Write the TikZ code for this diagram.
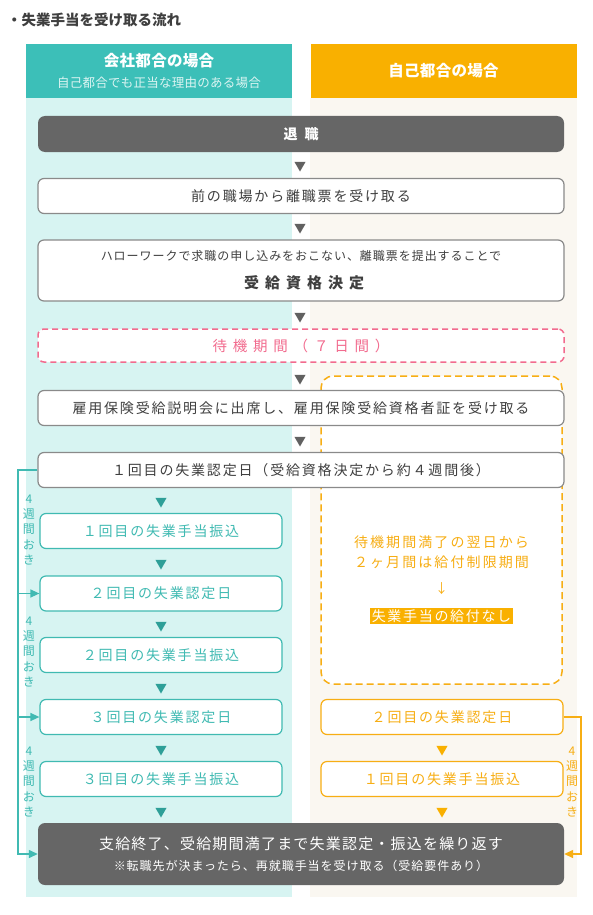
\documentclass[tikz,border=0pt]{standalone}
\usepackage{fontspec}
\setmainfont{Noto Sans CJK JP}
\usetikzlibrary{arrows.meta, positioning, shapes.geometric}
\definecolor{ink}{HTML}{3F3F3F}
\definecolor{boxgray}{HTML}{8A8A8A}
\definecolor{darkbox}{HTML}{666666}
\definecolor{tealhead}{HTML}{3CBFB8}
\definecolor{tealbg}{HTML}{D7F4F2}
\definecolor{tealline}{HTML}{40BAB2}
\definecolor{tealdark}{HTML}{2E9F98}
\definecolor{orangehead}{HTML}{F9B000}
\definecolor{orangebg}{HTML}{FAF7F1}
\definecolor{orangeline}{HTML}{F7AE14}
\definecolor{pinkline}{HTML}{F26B8E}
\newcommand\jpfont[2]{\fontsize{#1}{#1}\selectfont\addfontfeature{LetterSpace=#2}}

\begin{document}
\begin{tikzpicture}[x=1pt, y=-1pt,
  every node/.style={inner sep=0pt},
  headbox/.style={minimum width=266pt, minimum height=54pt},
  mainbox/.style={draw=boxgray, fill=white, line width=1.2pt, rounded corners=6pt,
    minimum width=526pt, minimum height=35pt, text=ink, font=\jpfont{14}{13}},
  darkbox/.style={fill=darkbox, rounded corners=7pt, minimum width=526pt,
    minimum height=36pt, text=white},
  tealbox/.style={draw=tealline, fill=white, line width=1.2pt, rounded corners=6pt,
    minimum width=242pt, minimum height=35pt, text=tealline, font=\jpfont{14}{13}},
  orangebox/.style={tealbox, draw=orangeline, text=orangeline},
  tri/.style={regular polygon, regular polygon sides=3, shape border rotate=180,
    minimum size=13pt, fill=#1},
  weeks/.style={align=center, font=\fontsize{12}{15.2}\selectfont, text=#1},
  rail/.style={draw=#1, line width=1.4pt, -{Triangle[length=9pt,width=8pt]}}
]
  \useasboundingbox (0,0) rectangle (593,915);
  % columns
  \fill[tealbg] (26,98) rectangle (292,897);
  \fill[orangebg] (310,98) rectangle (577,897);
  \node[headbox, fill=tealhead] (headL) at (159,71) {};
  \node[headbox, fill=orangehead] (headR) at (443.5,71) {};
  \node[font=\bfseries\jpfont{15.5}{2}, text=white] (headLtitle) at (159,61) {会社都合の場合};
  \node[font=\jpfont{12.5}{2}, text=white!82!tealhead] (headLsub) at (159,83) {自己都合でも正当な理由のある場合};
  \node[font=\bfseries\jpfont{15.5}{2}, text=white] (headRtitle) at (443.5,71) {自己都合の場合};
  \node[anchor=west, font=\bfseries\fontsize{14.5}{15}\selectfont, text=ink] (title) at (7,20) {・失業手当を受け取る流れ};

  % common steps
  \node[darkbox, font=\bfseries\jpfont{14}{50}] (quit) at (301,134) {退職};
  \node[mainbox] (slip) at (301,196) {前の職場から離職票を受け取る};
  \node[mainbox, minimum height=61pt] (decide) at (301,270.5) {};
  \node[font=\jpfont{12}{8}, text=ink] (decideNote) at (301,256) {ハローワークで求職の申し込みをおこない、離職票を提出することで};
  \node[font=\bfseries\jpfont{15}{40}, text=ink] (decideText) at (304,283) {受給資格決定};
  \node[mainbox, draw=pinkline, dash pattern=on 6pt off 4pt, line width=1.5pt,
        minimum height=33pt, text=pinkline, font=\jpfont{14.5}{40}] (wait) at (301,345.5) {待機期間（７日間）};

  % restriction period (right)
  \node[draw=orangeline, fill=white, line width=1.5pt, dash pattern=on 7pt off 4pt,
        rounded corners=12pt, minimum width=241pt, minimum height=308pt] (restrict) at (441.5,530) {};
  \node[align=center, text=orangeline, font=\jpfont{14}{15}] (restrictText) at (441.5,552) {待機期間満了の翌日から\\[5.5pt]２ヶ月間は給付制限期間};
  \node[text=orangeline, font=\fontsize{13}{13}\selectfont] (restrictArrow) at (441.5,589) {↓};
  \node[fill=orangehead, text=white, inner xsep=1.5pt, inner ysep=2pt, font=\jpfont{14}{12}] (nopay) at (441.5,616) {失業手当の給付なし};

  \node[mainbox] (session) at (301,408) {雇用保険受給説明会に出席し、雇用保険受給資格者証を受け取る};
  \node[mainbox] (cert1) at (301,470) {１回目の失業認定日（受給資格決定から約４週間後）};

  % company reason (left)
  \node[tealbox] (payL1) at (161,531) {１回目の失業手当振込};
  \node[tealbox] (certL2) at (161,593.5) {２回目の失業認定日};
  \node[tealbox] (payL2) at (161,655) {２回目の失業手当振込};
  \node[tealbox] (certL3) at (161,717) {３回目の失業認定日};
  \node[tealbox] (payL3) at (161,779) {３回目の失業手当振込};

  % own reason (right)
  \node[orangebox] (certR2) at (442,717) {２回目の失業認定日};
  \node[orangebox] (payR1) at (442,779) {１回目の失業手当振込};

  \node[darkbox, minimum height=62pt] (final) at (301,854) {};
  \node[text=white, font=\jpfont{15}{8}] (finalText) at (301,844) {支給終了、受給期間満了まで失業認定・振込を繰り返す};
  \node[text=white, font=\jpfont{12}{8}] (finalNote) at (301,866) {※転職先が決まったら、再就職手当を受け取る（受給要件あり）};

  % triangles
  \foreach \y [count=\i] in {165, 227, 316, 378, 440}
    \node[tri=darkbox!95!black] (triC\i) at (300,\y) {};
  \foreach \y [count=\i] in {501, 563, 625, 687, 749, 811}
    \node[tri=tealdark] (triL\i) at (161,\y) {};
  \foreach \y [count=\i] in {749, 811}
    \node[tri=orangehead] (triR\i) at (442,\y) {};

  % 4-week loops
  \coordinate (railL) at (18,470);
  \coordinate (railR) at (581,717);
  \draw[rail=tealline] (cert1.west) -- (railL) |- (final.west);
  \foreach \n in {certL2, certL3}
    \draw[rail=tealline] (railL |- \n.west) -- (\n.west);
  \draw[rail=orangeline] (certR2.east) -- (railR) |- (final.east);
  \foreach \y [count=\i] in {530, 652, 782}
    \node[weeks=tealline] (weeksL\i) at (29,\y) {4\\週\\間\\お\\き};
  \node[weeks=orangeline] (weeksR) at (572,782) {4\\週\\間\\お\\き};
\end{tikzpicture}
\end{document}
